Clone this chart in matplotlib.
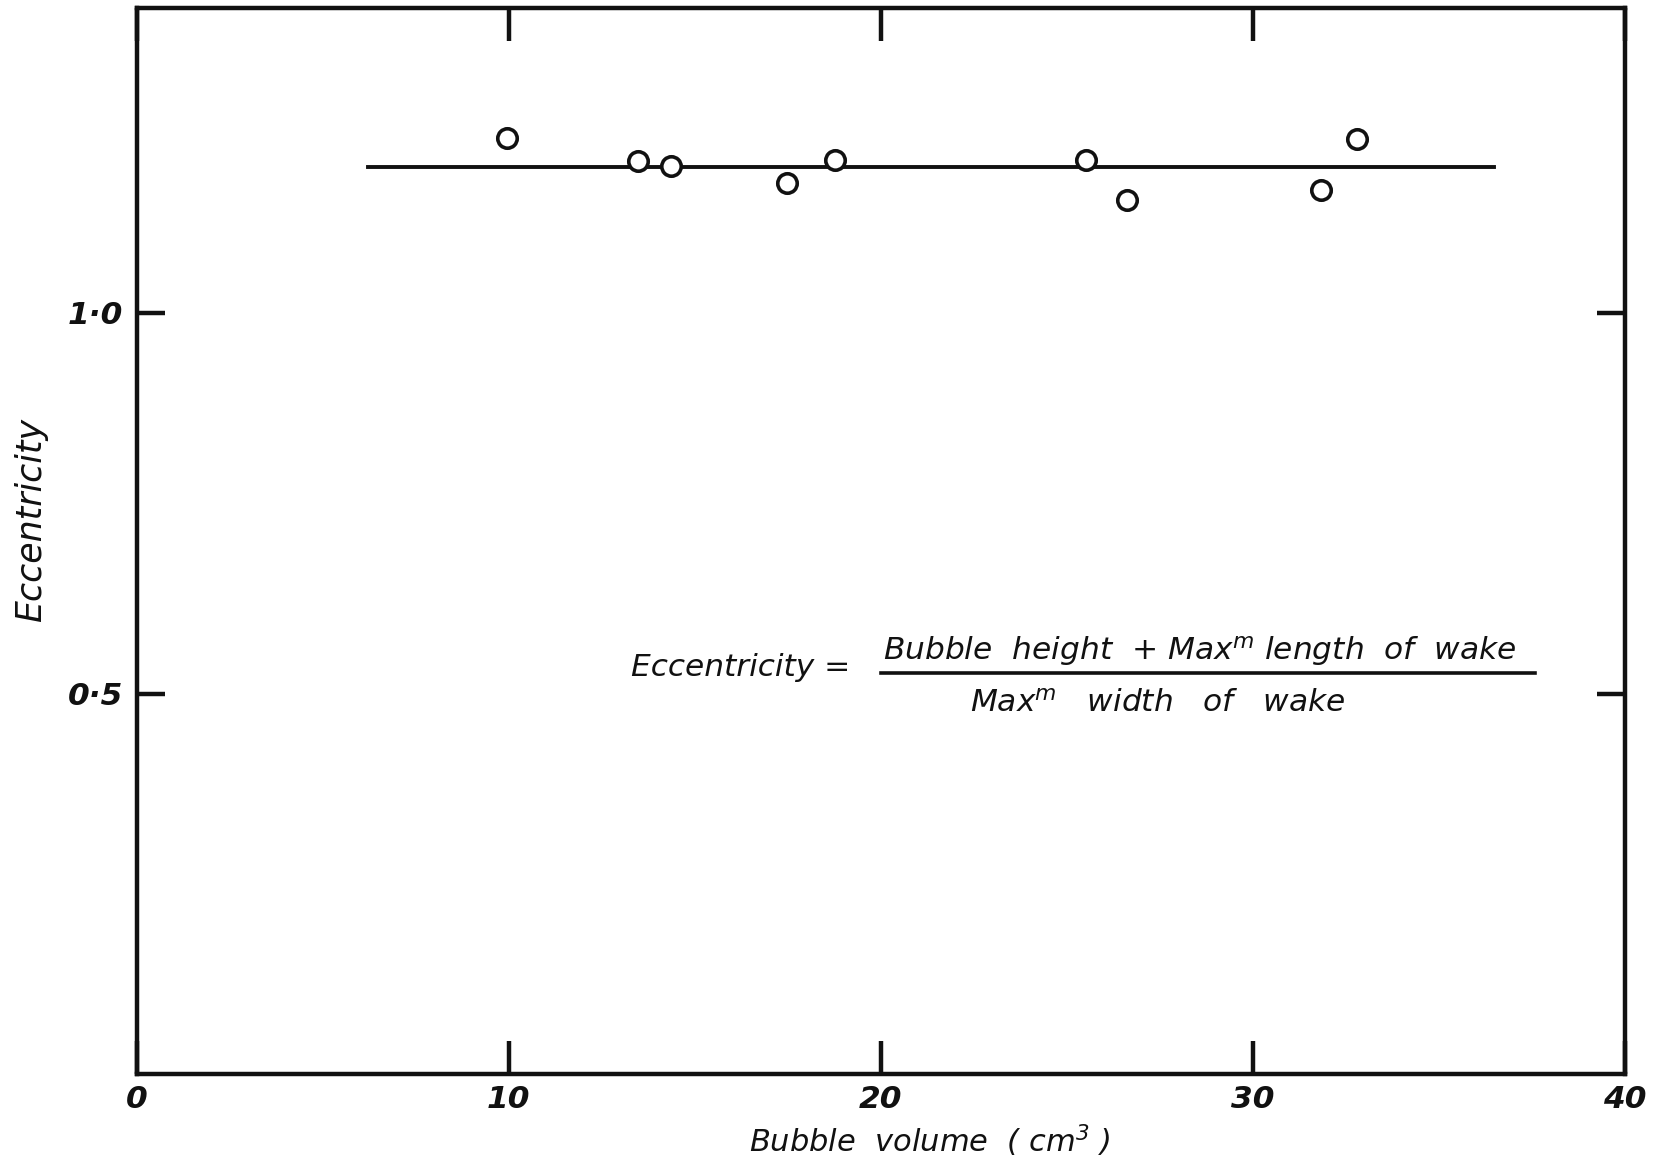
import matplotlib
matplotlib.use("Agg")
import matplotlib.pyplot as plt
from matplotlib.lines import Line2D

plt.rcParams["font.family"] = ["DejaVu Sans"]
plt.rcParams["font.style"] = "italic"
plt.rcParams["mathtext.fontset"] = "dejavusans"
plt.rcParams["mathtext.default"] = "it"

# ── data ──
volume = [9.95, 13.47, 14.36, 17.48, 18.77, 25.52, 26.63, 31.84, 32.81]
eccentricity = [1.230, 1.199, 1.193, 1.170, 1.201, 1.201, 1.148, 1.162, 1.228]
fit_x = [6.2, 36.5]
fit_y = [1.191, 1.191]

x_ticks = [0, 10, 20, 30, 40]
x_tick_labels = ["0", "10", "20", "30", "40"]
y_ticks = [0.5, 1.0]
y_tick_labels = ["0·5", "1·0"]

INK = "#111111"

fig = plt.figure(figsize=(16.54, 11.6), dpi=100)
ax = fig.add_axes([0.0828, 0.0740, 0.8994, 0.9188])

ax.plot(fit_x, fit_y, color=INK, linewidth=2.8, zorder=2)
ax.plot(volume, eccentricity, linestyle="none", marker="o", markersize=14,
        markerfacecolor="white", markeredgecolor=INK, markeredgewidth=2.6, zorder=3)

ax.set_xlim(0, 40)
ax.set_ylim(0, 1.4)

ax.set_xticks(x_ticks)
ax.set_xticklabels(x_tick_labels)
ax.set_yticks(y_ticks)
ax.set_yticklabels(y_tick_labels)

ax.tick_params(axis="x", direction="in", length=24, width=3.2, top=True,
               labelsize=22.5, pad=8, colors=INK)
ax.tick_params(axis="y", direction="in", length=20, width=3.2, right=True,
               labelsize=22.5, pad=10, colors=INK)
for lab in ax.get_xticklabels() + ax.get_yticklabels():
    lab.set_fontstyle("italic")
    lab.set_fontweight("bold")

for spine in ax.spines.values():
    spine.set_linewidth(3.2)
    spine.set_edgecolor(INK)

ax.set_xlabel(r"Bubble  volume  ( cm$^\mathrm{3}$ )", fontsize=22,
              fontstyle="italic", color=INK)
ax.xaxis.set_label_coords(0.533, -0.045)
ax.set_ylabel("Eccentricity", fontsize=25, fontstyle="italic", color=INK)
ax.yaxis.set_label_coords(-0.060, 0.52)

# ── definition written inside the plot ──
def fx(px):
    return px / 1654

def fy(py):
    return 1 - py / 1160

fig.text(fx(631), fy(668), "Eccentricity =", fontsize=22.5, fontstyle="italic",
         color=INK, ha="left", va="center")
fig.text(fx(1200), fy(651), r"Bubble  height  + Max$^m$ length  of  wake",
         fontsize=22.5, fontstyle="italic", color=INK, ha="center", va="center")
fig.text(fx(1158), fy(703), r"Max$^m$   width   of   wake",
         fontsize=22.5, fontstyle="italic", color=INK, ha="center", va="center")
fig.add_artist(Line2D([fx(881), fx(1535)], [fy(673), fy(673)],
                      transform=fig.transFigure, color=INK, linewidth=2.6))

fig.savefig("out.png", dpi=100, facecolor="white")
